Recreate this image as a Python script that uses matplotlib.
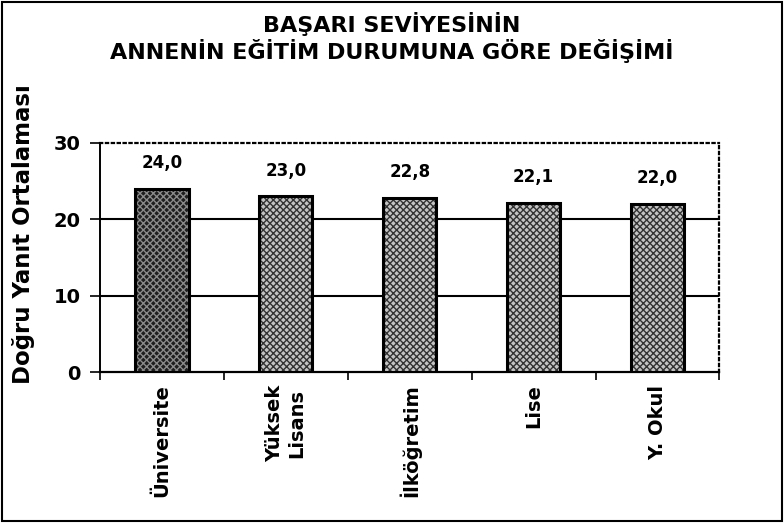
import matplotlib
matplotlib.use("Agg")
import matplotlib.pyplot as plt
from matplotlib.patches import Rectangle

# === Data ===
categories = ["Üniversite", "Yüksek\nLisans", "İlköğretim", "Lise", "Y. Okul"]
values = [24.0, 23.0, 22.8, 22.1, 22.0]
value_labels = ["24,0", "23,0", "22,8", "22,1", "22,0"]
yticks = [0, 10, 20, 30]

plt.rcParams['font.family'] = ['DejaVu Sans']
plt.rcParams['font.weight'] = 'bold'
plt.rcParams['hatch.linewidth'] = 1.0

fig = plt.figure(figsize=(7.84, 5.23), dpi=100)
ax = fig.add_axes([0.1276, 0.2887, 0.790, 0.4379])

x = list(range(len(categories)))
faces = ['#1e1e1e'] + ['#c4c4c4'] * (len(values) - 1)
hatch_cols = ['#8a8a8a'] + ['#333333'] * (len(values) - 1)

# texture first, outline on top
for xi, v, fc, hc in zip(x, values, faces, hatch_cols):
    ax.bar(xi, v, width=0.43, color=fc, edgecolor=hc, hatch='xxxxx', linewidth=0, zorder=3)
bars = ax.bar(x, values, width=0.43, fill=False, edgecolor='black', linewidth=2.2, zorder=4)

for b, lab in zip(bars, value_labels):
    ax.annotate(lab, (b.get_x() + b.get_width() / 2, b.get_height()),
                xytext=(0, 15), textcoords='offset points', ha='center', va='baseline',
                fontsize=12, fontweight='bold')

ax.set_xlim(-0.5, len(categories) - 0.5)
ax.set_ylim(0, 30)
ax.set_yticks(yticks)
ax.set_yticklabels([str(t) for t in yticks], fontsize=14, fontweight='bold')
ax.set_xticks([i - 0.5 for i in range(len(categories) + 1)])
ax.set_xticklabels([])
ax.set_xticks(x, minor=True)
ax.set_xticklabels(categories, minor=True, rotation=90, fontsize=14, fontweight='bold',
                   va='top', linespacing=1.2)
ax.tick_params(axis='x', which='minor', length=0, pad=9)
ax.tick_params(axis='x', which='major', length=6, direction='out', width=1.2)
ax.tick_params(axis='y', length=7, direction='out', width=1.2, pad=7)

for yv in [10, 20]:
    ax.axhline(yv, color='black', linewidth=1.5, zorder=1)

ax.spines['top'].set_linestyle(':')
ax.spines['top'].set_linewidth(1.6)
ax.spines['right'].set_linestyle(':')
ax.spines['right'].set_linewidth(1.6)
ax.spines['left'].set_linewidth(1.4)
ax.spines['bottom'].set_linewidth(1.6)

ax.set_ylabel("Doğru Yanıt Ortalaması", fontsize=16.5, fontweight='bold', va='center')
ax.yaxis.set_label_coords(-0.124, 0.6)

fig.text(0.5, 0.954, "BAŞARI SEVİYESİNİN", ha='center', va='center', fontsize=16, fontweight='bold')
fig.text(0.5, 0.902, "ANNENİN EĞİTİM DURUMUNA GÖRE DEĞİŞİMİ", ha='center', va='center',
         fontsize=16, fontweight='bold')

fig.patches.append(Rectangle((0.003, 0.004), 0.994, 0.992, transform=fig.transFigure,
                             fill=False, edgecolor='black', linewidth=1.5))

fig.savefig("out.png", dpi=100)
